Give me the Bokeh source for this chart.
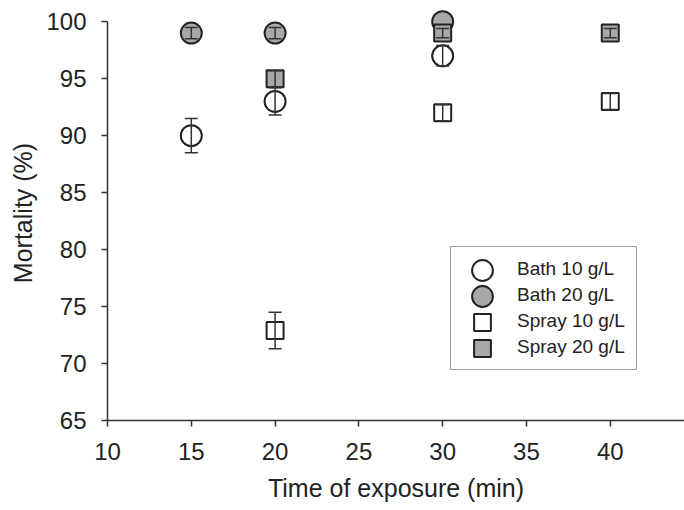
from bokeh.plotting import figure
from bokeh.models import Range1d, FixedTicker, Legend, LegendItem
from bokeh.embed import file_html
from bokeh.resources import INLINE

# ---- data ----
bath10_time = [15, 20, 30]
bath10_mort = [90, 93, 97]
bath10_err = [1.5, 1.2, 0.9]

bath20_time = [15, 20, 30]
bath20_mort = [99, 99, 100]
bath20_err = [0.5, 0.5, 0.0]

spray10_time = [20, 30, 40]
spray10_mort = [72.9, 92, 93]
spray10_err = [1.6, 0.7, 0.7]

spray20_time = [20, 30, 40]
spray20_mort = [95, 99, 99]
spray20_err = [0.7, 0.4, 0.4]

series_labels = ["Bath 10 g/L", "Bath 20 g/L", "Spray 10 g/L", "Spray 20 g/L"]
x_ticks = [10, 15, 20, 25, 30, 35, 40]
y_ticks = [65, 70, 75, 80, 85, 90, 95, 100]

FONT = "Liberation Sans"
DARK = "#222222"
GRAY = "#a8a8a8"

p = figure(width=684, height=510, output_backend="svg", toolbar_location=None,
           x_range=Range1d(10, 44.43), y_range=Range1d(65, 101.42),
           min_border_left=107, min_border_right=0, min_border_top=5,
           min_border_bottom=90)

p.outline_line_color = None
p.xgrid.visible = False
p.ygrid.visible = False
p.background_fill_color = "white"
p.border_fill_color = "white"

for ax in (p.xaxis[0], p.yaxis[0]):
    ax.axis_line_color = "#333333"
    ax.axis_line_width = 1.5
    ax.major_tick_line_color = "#333333"
    ax.major_tick_line_width = 1.5
    ax.major_tick_out = 6
    ax.major_tick_in = 0
    ax.minor_tick_line_color = None
    ax.major_label_text_font = FONT
    ax.major_label_text_font_size = "24px"
    ax.major_label_text_color = DARK
    ax.axis_label_text_font = FONT
    ax.axis_label_text_font_size = "25px"
    ax.axis_label_text_font_style = "normal"
    ax.axis_label_text_color = DARK

p.xaxis[0].ticker = FixedTicker(ticks=x_ticks)
p.yaxis[0].ticker = FixedTicker(ticks=y_ticks)
p.yaxis[0].bounds = (65, 100)
p.xaxis[0].axis_label = "Time of exposure (min)"
p.yaxis[0].axis_label = "Mortality (%)"
p.xaxis[0].major_label_standoff = 16
p.xaxis[0].axis_label_standoff = 11
p.yaxis[0].major_label_standoff = 15
p.yaxis[0].axis_label_standoff = 6

series = [
    (series_labels[0], bath10_time, bath10_mort, bath10_err, "circle", "white", 21),
    (series_labels[1], bath20_time, bath20_mort, bath20_err, "circle", GRAY, 21),
    (series_labels[2], spray10_time, spray10_mort, spray10_err, "square", "white", 17),
    (series_labels[3], spray20_time, spray20_mort, spray20_err, "square", GRAY, 17),
]

renderers = []
for label, t, m, e, marker, fill, size in series:
    r = p.scatter(x=t, y=m, marker=marker, size=size, fill_color=fill,
                  line_color=DARK, line_width=2)
    et = [ti for ti, ei in zip(t, e) if ei > 0]
    lo = [mi - ei for mi, ei in zip(m, e) if ei > 0]
    hi = [mi + ei for mi, ei in zip(m, e) if ei > 0]
    p.segment(x0=et, y0=lo, x1=et, y1=hi, line_color="#333333", line_width=1.5)
    p.scatter(x=et + et, y=lo + hi, marker="dash", size=13,
              line_color="#333333", line_width=1.5)
    renderers.append(r)

# main legend: box, labels and rows
LEG_X, LEG_Y = 343, 50
PAD, GW, GH, SP = 10, 44, 24, 2
legend = Legend(items=[LegendItem(label=l, renderers=[r])
                       for l, r in zip(series_labels, renderers)],
                location=(LEG_X, LEG_Y), margin=0,
                glyph_width=GW, glyph_height=GH, spacing=SP, padding=PAD,
                label_standoff=12, label_width=109, label_height=GH,
                label_text_font=FONT, label_text_font_size="19px",
                label_text_color=DARK,
                border_line_color="#444444", border_line_width=1.5,
                background_fill_color="white", background_fill_alpha=1.0)
p.add_layout(legend)

# overlay symbols (no text): legend symbols drawn at the plotted marker size
n = len(series_labels)
box_h = 2 * PAD + n * GH + (n - 1) * SP
cx = LEG_X + PAD + GW / 2
for i, (r, s) in enumerate(zip(renderers, series)):
    sym = s[6] / 0.4  # legend symbol size = 0.4 * glyph box
    cy = LEG_Y + box_h - PAD - GH / 2 - i * (GH + SP)
    ov = Legend(items=[LegendItem(label="", renderers=[r])],
                location=(int(round(cx - sym / 2)), int(round(cy - sym / 2))),
                margin=0, padding=0, spacing=0,
                glyph_width=int(round(sym)), glyph_height=int(round(sym)),
                label_standoff=0, label_width=0, label_height=0,
                label_text_font=FONT, label_text_font_size="1px",
                label_text_alpha=0.0,
                border_line_color="#444444", border_line_width=1.5,
                border_line_alpha=0.0, background_fill_alpha=0.0)
    p.add_layout(ov)

open("out.html", "w").write(file_html(p, INLINE))
